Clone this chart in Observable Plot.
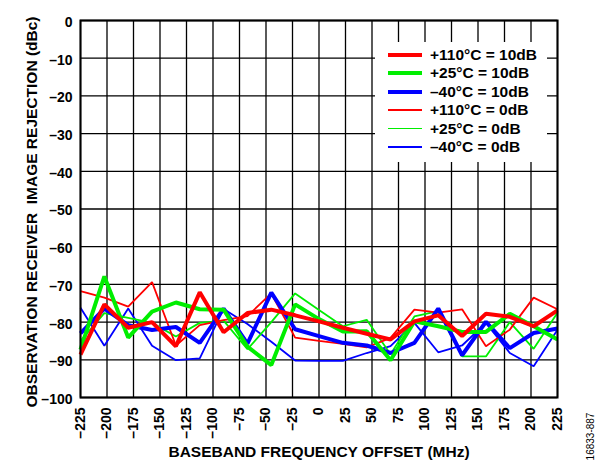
<!DOCTYPE html>
<html>
<head>
<meta charset="utf-8">
<script src="https://cdn.jsdelivr.net/npm/d3@7"></script>
<script src="https://cdn.jsdelivr.net/npm/@observablehq/plot@0.6"></script>
<style>
  body { margin: 0; background: #fff; }
  #wrap { position: relative; width: 608px; height: 476px; font-family: "Liberation Sans", Arial, sans-serif; }
  #legend { position: absolute; left: 375px; top: 42px; width: 172px; height: 120px; background: #fff; }
  .sw { position: absolute; left: 13px; width: 34px; }
  .lbl { position: absolute; left: 55px; height: 18px; line-height: 18px; font-weight: bold; font-size: 15.5px; white-space: nowrap; color: #000; }
</style>
</head>
<body>
<div id="wrap"></div>
<script>
// ---- data ----
const freq = [-225, -202.5, -180, -157.5, -135, -112.5, -90, -67.5, -45, -22.5, 0, 22.5, 45, 67.5, 90, 112.5, 135, 157.5, 180, 202.5, 225];

const hot10  = [-88.6, -75.3, -81.5, -80.0, -86.4, -72.1, -82.7, -77.6, -76.7, -78.2, -79.8, -81.5, -83.1, -84.6, -79.8, -78.2, -83.7, -77.8, -78.6, -81.1, -76.9];
const room10 = [-87.3, -67.9, -84.1, -77.2, -74.8, -76.6, -76.7, -86.5, -91.4, -75.3, -79.2, -82.5, -82.4, -90.1, -79.8, -81.1, -82.6, -82.6, -77.8, -81.1, -84.6];
const cold10 = [-83.0, -76.4, -80.8, -82.1, -81.3, -85.5, -76.4, -85.7, -72.2, -81.9, -83.7, -85.5, -86.2, -88.2, -85.5, -76.4, -88.8, -79.9, -86.9, -82.9, -81.7];
const hot0   = [-71.8, -73.5, -75.9, -69.4, -86.2, -80.8, -79.5, -78.4, -72.4, -84.1, -85.0, -85.8, -86.7, -84.2, -76.7, -77.5, -76.6, -86.4, -82.0, -73.5, -76.6];
const room0  = [-85.0, -77.6, -78.9, -80.2, -83.8, -80.2, -79.6, -87.2, -80.0, -72.4, -76.8, -81.1, -79.4, -88.5, -78.5, -77.1, -89.1, -89.1, -80.0, -87.1, -77.5];
const cold0  = [-76.2, -86.3, -76.4, -86.3, -90.1, -89.6, -76.5, -80.5, -85.2, -90.2, -90.3, -90.3, -88.2, -86.4, -80.2, -88.0, -86.2, -80.2, -88.2, -91.7, -82.0];

const seriesNames = ["+110°C = 10dB", "+25°C = 10dB", "–40°C = 10dB", "+110°C = 0dB", "+25°C = 0dB", "–40°C = 0dB"];
const seriesValues = [hot10, room10, cold10, hot0, room0, cold0];

const xTicks = [-225, -200, -175, -150, -125, -100, -75, -50, -25, 0, 25, 50, 75, 100, 125, 150, 175, 200, 225];
const yTicks = [0, -10, -20, -30, -40, -50, -60, -70, -80, -90, -100];

const xLabel = "BASEBAND FREQUENCY OFFSET (MHz)";
const yLabel = "OBSERVATION RECEIVER  IMAGE REJECTION (dBc)";
const figId = "16833-887";

// ---- styles ----
const colors = ["#ff0000", "#00ee00", "#0000ff", "#ff0000", "#00ee00", "#0000ff"];
const widths = [4, 4, 4, 1.8, 1.8, 1.8];
const drawOrder = [5, 4, 3, 2, 1, 0];

const fmt = d => String(d).replace("-", "–");

const rows = seriesNames.flatMap((name, s) => freq.map((f, i) => ({freq: f, value: seriesValues[s][i], series: name})));

const lineMarks = drawOrder.map(s => Plot.line(rows.filter(r => r.series === seriesNames[s]), {
  x: "freq", y: "value", stroke: colors[s], strokeWidth: widths[s], strokeLinejoin: "miter", strokeLinecap: "butt"
}));

const chart = Plot.plot({
  width: 608,
  height: 476,
  marginLeft: 80,
  marginRight: 51,
  marginTop: 20,
  marginBottom: 79,
  x: {domain: [-225, 225], axis: null},
  y: {domain: [-100, 0], axis: null},
  style: {fontFamily: "'Liberation Sans', Arial, sans-serif", color: "#000", background: "#fff", overflow: "visible"},
  marks: [
    Plot.gridX(xTicks, {stroke: "#000", strokeOpacity: 1, strokeWidth: 1.3}),
    Plot.gridY(yTicks, {stroke: "#000", strokeOpacity: 1, strokeWidth: 1.3}),
    ...lineMarks,
    Plot.frame({stroke: "#000", strokeWidth: 2}),
    Plot.text(yTicks, {y: d => d, text: fmt, frameAnchor: "left", textAnchor: "end", lineAnchor: "middle", dx: -8, dy: 2, fontSize: 14, fontWeight: "bold"}),
    Plot.text(xTicks, {x: d => d, text: fmt, frameAnchor: "bottom", rotate: -90, textAnchor: "end", lineAnchor: "middle", dy: 10, fontSize: 14, fontWeight: "bold"}),
    Plot.text([yLabel], {frameAnchor: "left", textAnchor: "middle", lineAnchor: "middle", dx: -48, dy: 3, rotate: -90, fontSize: 15.5, fontWeight: "bold"}),
    Plot.text([xLabel], {frameAnchor: "bottom", textAnchor: "middle", lineAnchor: "middle", dy: 55, fontSize: 15.5, fontWeight: "bold"}),
    Plot.text([figId], {frameAnchor: "bottom-right", textAnchor: "middle", lineAnchor: "middle", dx: 33, dy: 39, rotate: -90, fontSize: 10, fontWeight: "normal"})
  ]
});

const wrap = document.getElementById("wrap");
wrap.appendChild(chart);

// legend overlay (inside plot area, white box covering grid)
const legend = document.createElement("div");
legend.id = "legend";
seriesNames.forEach((name, i) => {
  const cy = 13 + i * 18.4;
  const sw = document.createElement("div");
  sw.className = "sw";
  sw.style.top = (cy - widths[i] / 2) + "px";
  sw.style.height = widths[i] + "px";
  sw.style.background = colors[i];
  legend.appendChild(sw);
  const lbl = document.createElement("div");
  lbl.className = "lbl";
  lbl.style.top = (cy - 9) + "px";
  lbl.textContent = name;
  legend.appendChild(lbl);
});
wrap.appendChild(legend);
</script>
</body>
</html>
